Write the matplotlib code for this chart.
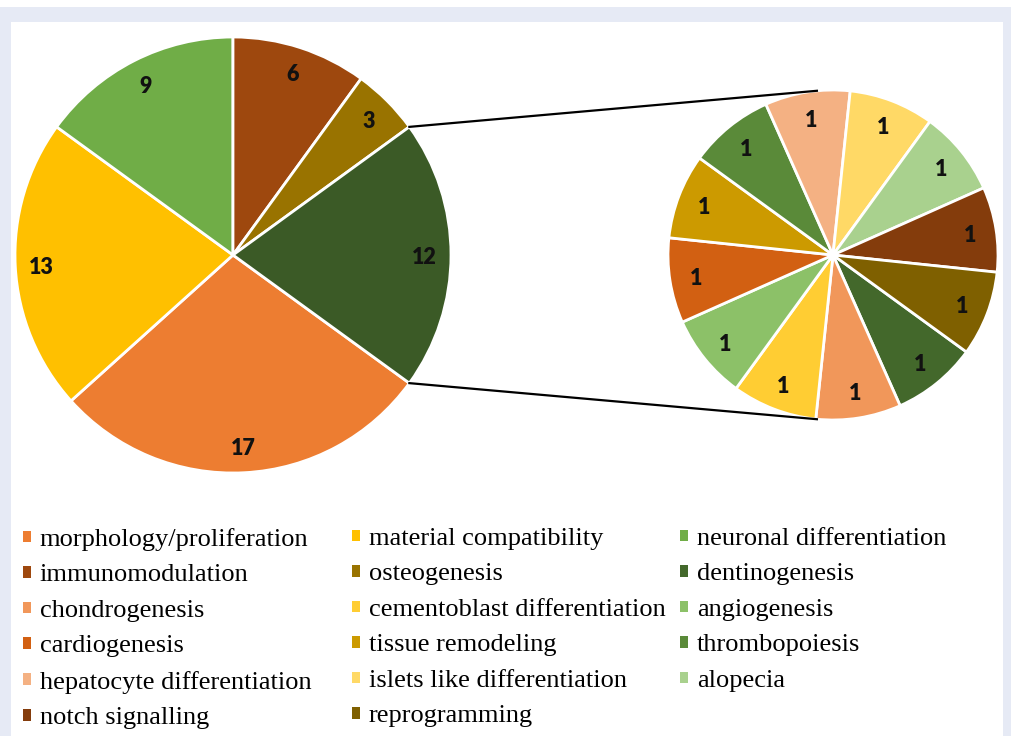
import matplotlib
matplotlib.use("Agg")
import matplotlib.pyplot as plt
from matplotlib.patches import Rectangle, Patch
import numpy as np

# main pie (last slice is the aggregated "other" slice)
main_labels = ["morphology/proliferation", "material compatibility", "neuronal differentiation",
               "immunomodulation", "osteogenesis"]
main_values = [17, 13, 9, 6, 3]
main_colors = ["#ed7d31", "#ffc000", "#70ad47", "#9e480e", "#997300"]
other_color = "#3b5a26"

# secondary pie
sub_labels = ["dentinogenesis", "chondrogenesis", "cementoblast differentiation", "angiogenesis",
              "cardiogenesis", "tissue remodeling", "thrombopoiesis", "hepatocyte differentiation",
              "islets like differentiation", "alopecia", "notch signalling", "reprogramming"]
sub_values = [1, 1, 1, 1, 1, 1, 1, 1, 1, 1, 1, 1]
sub_colors = ["#43682b", "#f1975a", "#ffcd33", "#8cc168", "#d26012", "#cc9a00",
              "#5a8a39", "#f4b183", "#ffd966", "#a9d18e", "#843c0c", "#7f6000"]

W, H = 1012, 736
fig = plt.figure(figsize=(W / 100, H / 100), dpi=100)
fig.patch.set_facecolor("#e6eaf5")
ax = fig.add_axes([0, 0, 1, 1])

# white panel + white top strip (page crop)
ax.add_patch(Rectangle((11, 0), 992, H - 22, facecolor="white", edgecolor="none", zorder=0))
ax.add_patch(Rectangle((0, H - 7), W, 7, facecolor="white", edgecolor="none", zorder=0))

c1, r1 = (233, 481), 218
c2, r2 = (833, 481), 165

vals1 = main_values + [sum(sub_values)]
cols1 = main_colors + [other_color]
w1, _ = ax.pie(vals1, colors=cols1, startangle=-36, counterclock=False, center=c1, radius=r1,
               wedgeprops=dict(edgecolor="white", linewidth=2), frame=True)
w2, _ = ax.pie(sub_values, colors=sub_colors, startangle=-36, counterclock=False, center=c2, radius=r2,
               wedgeprops=dict(edgecolor="white", linewidth=2), frame=True)
ax.set_xlim(0, W)
ax.set_ylim(0, H)
ax.axis("off")

lab_font = dict(fontsize=15.5, fontweight="heavy", family="Lato", color="#111111", ha="center", va="center")
for w, v in zip(w1, vals1):
    a = np.deg2rad((w.theta1 + w.theta2) / 2)
    ax.text(c1[0] + 0.88 * r1 * np.cos(a), c1[1] + 0.88 * r1 * np.sin(a) - 2, str(v), **lab_font)
for w, v in zip(w2, sub_values):
    a = np.deg2rad((w.theta1 + w.theta2) / 2)
    ax.text(c2[0] + 0.84 * r2 * np.cos(a), c2[1] + 0.84 * r2 * np.sin(a) - 2, str(v), **lab_font)

# connector lines from the "other" slice to the secondary pie
ow = w1[-1]
for t_main, t_sub in [(ow.theta2, 95.6), (ow.theta1, 264.4)]:
    a, b = np.deg2rad(t_main), np.deg2rad(t_sub)
    ax.plot([c1[0] + r1 * np.cos(a), c2[0] + r2 * np.cos(b)],
            [c1[1] + r1 * np.sin(a), c2[1] + r2 * np.sin(b)], color="black", lw=1.6, zorder=5)

# legend: three columns, row-major order
all_labels = main_labels + sub_labels
all_colors = main_colors + sub_colors
col_x = [23, 352, 680]
for j in range(3):
    idx = list(range(j, len(all_labels), 3))
    handles = [Patch(facecolor=all_colors[i], edgecolor="none") for i in idx]
    fig.legend(handles, [all_labels[i] for i in idx], loc="upper left",
               bbox_to_anchor=(col_x[j] / W, 1 - 528 / H), frameon=False,
               prop=dict(family="Liberation Serif", size=19), borderpad=0, borderaxespad=0,
               handlelength=0.3, handleheight=0.3, handletextpad=0.34, labelspacing=0.51)

fig.savefig("out.png", dpi=100, facecolor=fig.get_facecolor())
